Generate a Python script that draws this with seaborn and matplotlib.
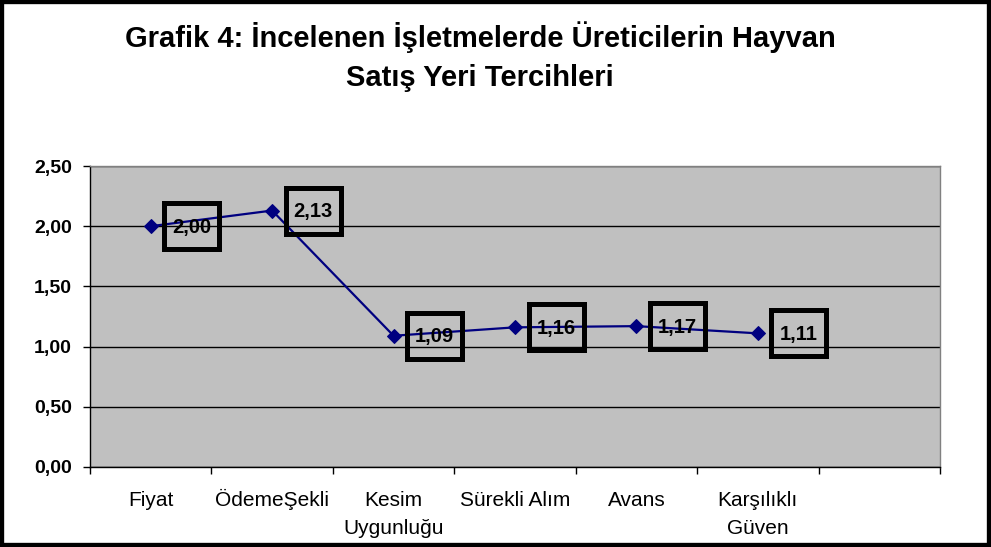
import matplotlib
matplotlib.use("Agg")
import matplotlib.pyplot as plt
import matplotlib.transforms as mtransforms
from matplotlib.patches import Rectangle
import numpy as np
import pandas as pd
import seaborn as sns

# Chart data
categories = ["Fiyat", "ÖdemeŞekli", "Kesim\nUygunluğu", "Sürekli Alım", "Avans", "Karşılıklı\nGüven"]
values = [2.00, 2.13, 1.09, 1.16, 1.17, 1.11]
y_ticks = [0.0, 0.5, 1.0, 1.5, 2.0, 2.5]
title_lines = ["Grafik 4: İncelenen İşletmelerde Üreticilerin Hayvan", "Satış Yeri Tercihleri"]

sns.set_style("white")
plt.rcParams.update({
    "font.family": ["Liberation Sans", "DejaVu Sans"],
    "text.color": "black",
    "xtick.color": "black",
    "ytick.color": "black",
    "axes.labelcolor": "black",
})

df = pd.DataFrame({"kategori": categories, "deger": values})

W, H = 991, 547
PX = 0.72  # points per pixel at 100 dpi
fig = plt.figure(figsize=(W / 100, H / 100), dpi=100)
ax = fig.add_axes([90 / W, 1 - 467 / H, 850 / W, 301 / H])
ax.set_facecolor("#C0C0C0")

line_color = "#000080"
sns.lineplot(data=df, x="kategori", y="deger", sort=False, marker="D", markersize=7,
             color=line_color, markeredgecolor=line_color, linewidth=1.6, ax=ax)

# axes, grid, ticks
ax.set_xlim(-0.5, 6.5)
ax.set_ylim(0, 2.5)
ax.set_yticks(y_ticks)
ax.set_yticklabels([f"{v:.2f}".replace(".", ",") for v in y_ticks], fontsize=14, fontweight="bold")
ax.yaxis.grid(True, color="black", linewidth=1)
ax.set_axisbelow(True)
ax.tick_params(axis="y", direction="out", length=7 * PX, width=1, pad=11 * PX, left=True)

# category labels: first-line baselines aligned below the axis
ax.set_xticks(range(len(categories)))
ax.set_xticklabels([])
ax.tick_params(axis="x", which="major", length=0)
ax.set_xticks(np.arange(-0.5, 6.6, 1), minor=True)
ax.tick_params(axis="x", which="minor", direction="out", length=7 * PX, width=1, bottom=True)
for i, cat in enumerate(categories):
    n_extra = cat.count("\n")
    ax.annotate(cat, xy=(i, 0), xycoords=ax.get_xaxis_transform(),
                xytext=(0, -(39 + 28 * n_extra) * PX), textcoords="offset points",
                ha="center", va="baseline", fontsize=15, linespacing=1.6,
                multialignment="center", annotation_clip=False)

ax.set_xlabel("")
ax.set_ylabel("")
for side in ["left", "bottom"]:
    ax.spines[side].set_color("black")
    ax.spines[side].set_linewidth(1)
for side in ["top", "right"]:
    ax.spines[side].set_color("#808080")
    ax.spines[side].set_linewidth(1)

# boxed value labels
for i, v in enumerate(values):
    trans = fig.dpi_scale_trans + mtransforms.ScaledTranslation(i, v, ax.transData)
    ax.add_patch(Rectangle((0.135, -0.23), 0.55, 0.46, transform=trans, fill=False,
                           edgecolor="black", linewidth=3.6, clip_on=False, zorder=5))
    ax.annotate(f"{v:.2f}".replace(".", ","), xy=(i, v), xytext=(41 * PX, -6.5 * PX),
                textcoords="offset points", ha="center", va="baseline",
                fontsize=14.5, fontweight="bold", zorder=6)

# title, two lines on fixed baselines
for txt, base in zip(title_lines, [47, 86]):
    fig.text(480 / W, 1 - base / H, txt, ha="center", va="baseline", fontsize=21,
             fontweight="bold")

# outer frame of the chart
fig.patches.append(Rectangle((0, 0), 1, 1, transform=fig.transFigure, fill=False,
                             edgecolor="black", linewidth=6))

fig.savefig("out.png", dpi=100)
